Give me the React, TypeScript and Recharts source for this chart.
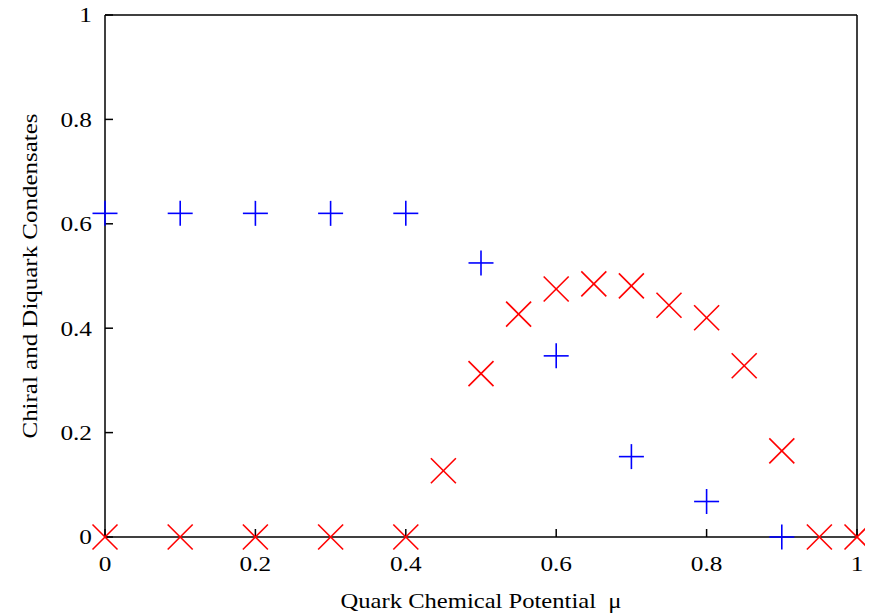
import React from 'react';
import { ScatterChart, Scatter, XAxis, YAxis } from 'recharts';

const muChiral = [0, 0.1, 0.2, 0.3, 0.4, 0.5, 0.6, 0.7, 0.8, 0.9];
const chiral = [0.62, 0.62, 0.62, 0.62, 0.62, 0.525, 0.347, 0.154, 0.068, 0.0];
const muDiquark = [0, 0.1, 0.2, 0.3, 0.4, 0.45, 0.5, 0.55, 0.6, 0.65, 0.7, 0.75, 0.8, 0.85, 0.9, 0.95, 1.0];
const diquark = [0, 0, 0, 0, 0, 0.127, 0.313, 0.427, 0.475, 0.485, 0.481, 0.444, 0.42, 0.328, 0.165, 0, 0];
const xTicks = [0, 0.2, 0.4, 0.6, 0.8, 1];
const yTicks = [0, 0.2, 0.4, 0.6, 0.8, 1];

const chiralData = muChiral.map((x, i) => ({ x, y: chiral[i] }));
const diquarkData = muDiquark.map((x, i) => ({ x, y: diquark[i] }));

const FONT = '"Liberation Serif", "Times New Roman", serif';
const H = 12.5;
const SX = 1.15;

const Plus = (props: any) => {
  const { cx, cy } = props;
  return (
    <g>
      <line x1={cx - H} y1={cy} x2={cx + H} y2={cy} stroke="#0000ff" strokeWidth={1.6} />
      <line x1={cx} y1={cy - H} x2={cx} y2={cy + H} stroke="#0000ff" strokeWidth={1.6} />
    </g>
  );
};

const Cross = (props: any) => {
  const { cx, cy } = props;
  return (
    <g>
      <line x1={cx - H} y1={cy - H} x2={cx + H} y2={cy + H} stroke="#ff0000" strokeWidth={1.6} />
      <line x1={cx - H} y1={cy + H} x2={cx + H} y2={cy - H} stroke="#ff0000" strokeWidth={1.6} />
    </g>
  );
};

const XTick = (props: any) => {
  const { x, y, payload } = props;
  return (
    <text
      x={x}
      y={y + 16}
      textAnchor="middle"
      fontFamily={FONT}
      fontSize={22}
      fill="#000"
      transform={`translate(${x},0) scale(${SX},1) translate(${-x},0)`}
    >
      {String(payload.value)}
    </text>
  );
};

const YTick = (props: any) => {
  const { x, y, payload } = props;
  return (
    <text
      x={x}
      y={y + 7.5}
      textAnchor="end"
      fontFamily={FONT}
      fontSize={22}
      fill="#000"
      transform={`translate(${x},0) scale(${SX},1) translate(${-x},0)`}
    >
      {String(payload.value)}
    </text>
  );
};

export default function App() {
  return (
    <div style={{ position: 'relative', top: -8, left: -8, width: 873, height: 615 }}>
      <ScatterChart width={873} height={615} margin={{ top: 14, right: 15, left: 45, bottom: 0 }}>
        <XAxis
          xAxisId={0}
          dataKey="x"
          type="number"
          domain={[0, 1]}
          ticks={xTicks}
          height={78}
          tickSize={-8}
          tickMargin={26}
          axisLine={{ stroke: '#000', strokeWidth: 1.5 }}
          tickLine={{ stroke: '#000', strokeWidth: 1.5 }}
          tick={<XTick />}
          label={{
            content: (p: any) => {
              const vb = p.viewBox;
              return (
                <text
                  x={vb.x + vb.width / 2}
                  y={vb.y + 71}
                  textAnchor="middle"
                  fontFamily={FONT}
                  fontSize={22}
                  fill="#000"
                  textLength={281}
                  lengthAdjust="spacingAndGlyphs"
                >
                  Quark Chemical Potential&#160;&#160;μ
                </text>
              );
            },
          }}
        />
        <XAxis
          xAxisId="top"
          orientation="top"
          type="number"
          domain={[0, 1]}
          ticks={xTicks}
          height={1}
          tickSize={-8}
          tick={false}
          axisLine={{ stroke: '#000', strokeWidth: 1.5 }}
          tickLine={{ stroke: '#000', strokeWidth: 1.5 }}
        />
        <YAxis
          yAxisId={0}
          dataKey="y"
          type="number"
          domain={[0, 1]}
          ticks={yTicks}
          width={60}
          tickSize={-8}
          tickMargin={21}
          axisLine={{ stroke: '#000', strokeWidth: 1.5 }}
          tickLine={{ stroke: '#000', strokeWidth: 1.5 }}
          tick={<YTick />}
          label={{
            content: (p: any) => {
              const vb = p.viewBox;
              const cx = 37;
              const cy = vb.y + vb.height / 2;
              return (
                <text
                  x={cx}
                  y={cy}
                  transform={`rotate(-90, ${cx}, ${cy})`}
                  textAnchor="middle"
                  fontFamily={FONT}
                  fontSize={22}
                  fill="#000"
                  textLength={325}
                  lengthAdjust="spacingAndGlyphs"
                >
                  Chiral and Diquark Condensates
                </text>
              );
            },
          }}
        />
        <YAxis
          yAxisId="right"
          orientation="right"
          type="number"
          domain={[0, 1]}
          ticks={yTicks}
          width={1}
          tickSize={-8}
          tick={false}
          axisLine={{ stroke: '#000', strokeWidth: 1.5 }}
          tickLine={{ stroke: '#000', strokeWidth: 1.5 }}
        />
        <Scatter data={chiralData} xAxisId={0} yAxisId={0} shape={Plus} isAnimationActive={false} />
        <Scatter data={diquarkData} xAxisId={0} yAxisId={0} shape={Cross} isAnimationActive={false} />
      </ScatterChart>
    </div>
  );
}
